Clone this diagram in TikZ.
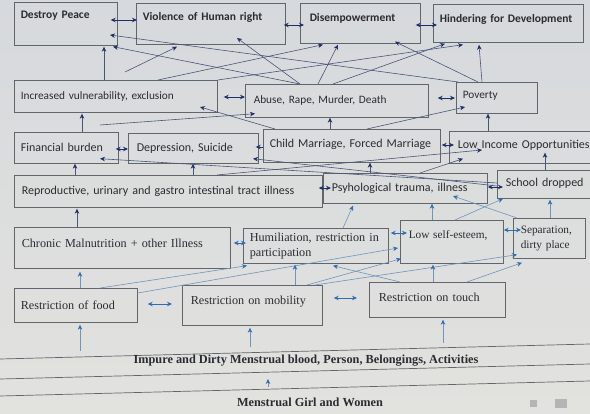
\documentclass[tikz,border=0pt]{standalone}
\usepackage{fontspec}
\setmainfont{Carlito}
\newfontfamily\rmserif{Liberation Serif}
\usetikzlibrary{arrows.meta}
\definecolor{bgtop}{HTML}{D6D9DD}
\definecolor{bgbot}{HTML}{E2E2DE}
\definecolor{bord}{HTML}{62666A}
\definecolor{navy}{HTML}{1F2E66}
\definecolor{navyl}{HTML}{4A5578}
\definecolor{sblue}{HTML}{2F6DB0}
\definecolor{sbluel}{HTML}{7094BC}
\definecolor{txt}{HTML}{2A2C32}
\definecolor{icon}{HTML}{B4B6B6}
\tikzset{
  box/.style={draw=bord, line width=0.7pt, anchor=north west, inner ysep=0pt,
    align=left, text=txt, font=\fontsize{12}{13}\selectfont},
  topbox/.style={box, font=\bfseries\fontsize{11.5}{13}\selectfont},
  midbox/.style={box, font=\fontsize{11.3}{13}\selectfont},
  sbox/.style={box, font=\rmserif\fontsize{12.2}{15}\selectfont},
  dim/.style n args={3}{minimum width=#1pt, minimum height=#2pt, inner xsep=#3pt, text width=#1pt-2*#3pt-0.8pt},
  up/.style={navyl, line width=0.6pt, -{Stealth[length=5pt,width=4.5pt,color=navy]}},
  dbl/.style={navy, line width=0.7pt, {Stealth[length=5pt,width=4.5pt]}-{Stealth[length=5pt,width=4.5pt]}},
  lo/.style={sbluel, line width=0.6pt, -{Stealth[length=5pt,width=4.5pt,color=sblue]}},
  dbllo/.style={sblue, line width=0.7pt, {Stealth[length=5pt,width=4.5pt]}-{Stealth[length=5pt,width=4.5pt]}},
  band/.style={text=txt, font=\rmserif\bfseries\fontsize{12.3}{14}\selectfont},
  bline/.style={draw=bord, line width=0.7pt}
}
\begin{document}
\begin{tikzpicture}[x=1pt, y=-1pt]
\shade[top color=bgtop, bottom color=bgbot] (0,0) rectangle (590,414);
\useasboundingbox (0,0) rectangle (590,414);

% row 1
\node[topbox, dim={103}{43}{6}, text depth=19pt] (dp) at (14,2) {\mbox{Destroy Peace}};
\node[topbox, dim={149}{41}{6}, text depth=15pt] (vh) at (136,3) {\mbox{Violence of Human right}};
\node[topbox, dim={120}{40}{9}, text depth=12pt] (de) at (300,3) {\mbox{Disempowerment}};
\node[topbox, dim={150}{38}{6}, text depth=10pt] (hd) at (433,4) {\mbox{Hindering for Development}};
% row 2
\node[midbox, dim={203}{32}{6}] (iv) at (14,80) {\mbox{Increased vulnerability, exclusion}};
\node[midbox, dim={183}{33}{8}] (ab) at (245,84) {\mbox{Abuse, Rape, Murder, Death}};
\node[midbox, dim={81}{31}{6}, text depth=6pt] (po) at (456,82) {\mbox{Poverty}};
% row 3
\node[box, dim={104}{31}{6}] (fb) at (14,132) {\mbox{Financial burden}};
\node[box, dim={130}{30}{8}] (ds) at (128,133) {\mbox{Depression, Suicide}};
\node[box, dim={177}{33}{6}, text depth=5pt] (cm) at (263,129) {\mbox{Child Marriage, Forced Marriage}};
\node[box, dim={151}{32}{8}, text depth=5pt] (li) at (449,131) {\mbox{Low Income Opportunities}};
% row 4
\node[box, dim={308}{32}{7}] (rp) at (14,175) {\mbox{Reproductive, urinary and gastro intestinal tract illness}};
\node[box, dim={164}{30}{8}] (ps) at (323,173) {\mbox{Psyhological trauma, illness}};
\node[box, dim={103}{28}{8}, text depth=5pt] (sd) at (497,170) {\mbox{School dropped}};
% row 5
\node[sbox, dim={216}{41}{7}, text depth=10pt] (cr) at (14,227) {\mbox{Chronic Malnutrition + other Illness}};
\node[sbox, dim={145}{35}{6}] (hu) at (243,228) {\mbox{Humiliation, restriction in}\\\mbox{participation}};
\node[box, dim={103}{43}{8}, text depth=14pt, font=\rmserif\fontsize{11.3}{15}\selectfont] (ls) at (400,220) {\mbox{Low self-esteem,}};
\node[sbox, dim={72}{40}{7}, font=\rmserif\fontsize{11.3}{15}\selectfont] (se) at (513,218) {\mbox{Separation,}\\\mbox{dirty place}};
% row 6
\node[sbox, dim={123}{34}{6}] (rf) at (14,288) {\mbox{Restriction of food}};
\node[sbox, dim={140}{40}{8}, text depth=10pt] (rm) at (182,285) {\mbox{Restriction on mobility}};
\node[sbox, dim={136}{35}{9}, text depth=6pt] (rt) at (369,282) {\mbox{Restriction on touch}};

% bands
\draw[bline] (0,359) -- (590,344);
\draw[bline] (0,379) -- (590,364);
\draw[bline] (0,396) -- (590,381);
\node[band] (im) at (306,361) {Impure and Dirty Menstrual blood, Person, Belongings, Activities};
\node[band] (mg) at (310,402) {Menstrual Girl and Women};
\fill[icon] (530,400) rectangle (537,407);
\fill[icon] (555,399) rectangle (567,408);
\coordinate (b1) at (80,351);
\coordinate (b2) at (250,347);
\coordinate (b3) at (443,343);
\coordinate (b4) at (268,387);
\coordinate (b5) at (268,379);
\coordinate (f1) at (125,72);
\coordinate (f2) at (100,125);

% double arrows upper
\draw[dbl] ([shift={(-7,18)}]dp.north east) -- ([shift={(1,17)}]vh.north west);
\draw[dbl] ([shift={(-2,22)}]vh.north east) -- ([shift={(4,22)}]de.north west);
\draw[dbl] ([shift={(-5,22)}]de.north east) -- ([shift={(4,21)}]hd.north west);
\draw[dbl] ([shift={(6,17)}]iv.north east) -- ([shift={(0,13)}]ab.north west);
\draw[dbl] ([shift={(9,14)}]ab.north east) -- ([shift={(-1,16)}]po.north west);
\draw[dbl] ([shift={(-3,17)}]fb.north east) -- ([shift={(0,16)}]ds.north west);
\draw[navy, line width=0.7pt, -{Stealth[length=5pt,width=4.5pt]}] ([shift={(0,18)}]cm.north west) -- ([shift={(-3,14)}]ds.north east);
\draw[dbl] ([shift={(1,16)}]cm.north east) -- ([shift={(5,14)}]li.north west);
\draw[dbl] ([shift={(-4,13)}]rp.north east) -- ([shift={(8,15)}]ps.north west);
\draw[dbl] ([shift={(0,14)}]ps.north east) -- ([shift={(6,17)}]sd.north west);
% double arrows lower
\draw[dbllo] ([shift={(3,16)}]cr.north east) -- ([shift={(3,15)}]hu.north west);
\draw[dbllo] ([shift={(2,5)}]hu.north east) -- ([shift={(7,13)}]ls.north west);
\draw[dbllo] ([shift={(0,10)}]ls.north east) -- ([shift={(8,12)}]se.north west);
\draw[dbllo] ([shift={(10,16)}]rf.north east) -- ([shift={(-10,19)}]rm.north west);
\draw[dbllo] ([shift={(11,13)}]rm.north east) -- ([shift={(-12,16)}]rt.north west);

% upper connectors
\draw[up] ([shift={(90,0)}]iv.north west) -- ([shift={(90,1)}]dp.south west);
\draw[up] (f1) -- ([shift={(41,2)}]vh.south west);
\draw[up] ([shift={(2,0)}]po.north west) -- ([shift={(96,33)}]dp.north west);
\draw[up] ([shift={(55,0)}]ab.north west) -- ([shift={(99,1)}]dp.south west);
\draw[up] ([shift={(55,0)}]ab.north west) -- ([shift={(101,35)}]vh.north west);
\draw[up] ([shift={(144,0)}]iv.north west) -- ([shift={(23,1)}]de.south west);
\draw[up] (iv.north east) -- ([shift={(30,2)}]hd.south west);
\draw[up] ([shift={(73,0)}]ab.north west) -- ([shift={(38,1)}]de.south west);
\draw[up] ([shift={(88,0)}]ab.north west) -- ([shift={(12,1)}]hd.south west);
\draw[up] ([shift={(22,0)}]po.north west) -- ([shift={(95,-2)}]de.south west);
\draw[up] ([shift={(26,0)}]po.north west) -- ([shift={(46,2)}]hd.south west);
\draw[up] ([shift={(12,0)}]cm.north west) -- ([shift={(186,27)}]iv.north west);
\draw[up] (f2) -- ([shift={(10,-4)}]ab.south west);
\draw[up] ([shift={(68,0)}]fb.north west) -- ([shift={(68,1)}]iv.south west);
\draw[up] ([shift={(67,0)}]cm.north west) -- ([shift={(85,0)}]ab.south west);
\draw[up] ([shift={(104,0)}]cm.north west) -- ([shift={(9,25)}]po.north west);
\draw[up] ([shift={(39,0)}]li.north west) -- ([shift={(32,0)}]po.south west);
% row 3-4
\draw[up] ([shift={(61,0)}]rp.north west) -- ([shift={(61,0)}]fb.south west);
\draw[up] ([shift={(179,0)}]rp.north west) -- ([shift={(65,0)}]ds.south west);
\draw[up] ([shift={(0,13)}]sd.north west) -- ([shift={(86,-5)}]fb.south west);
\draw[up] ([shift={(0,16)}]sd.north west) -- ([shift={(125,-5)}]ds.south west);
\draw[up] ([shift={(203,0)}]rp.north west) -- ([shift={(33,19)}]li.north west);
\draw[up] ([shift={(97,0)}]ps.north west) -- ([shift={(14,-5)}]li.south west);
\draw[up] ([shift={(47,0)}]ps.north west) -- ([shift={(107,0)}]cm.south west);
\draw[up] ([shift={(48,0)}]sd.north west) -- ([shift={(96,-11)}]li.south west);
\draw[up] ([shift={(63,0)}]cr.north west) -- ([shift={(63,1)}]rp.south west);
% row 5
\draw[lo] ([shift={(100,0)}]hu.north west) -- ([shift={(30,2)}]ps.south west);
\draw[lo] ([shift={(32,0)}]ls.north west) -- ([shift={(109,0)}]ps.south west);
\draw[lo] ([shift={(4,0)}]se.north west) -- ([shift={(130,23)}]ps.north west);
\draw[lo] ([shift={(55,0)}]ls.north west) -- ([shift={(6,0)}]sd.south west);
\draw[lo] ([shift={(37,0)}]se.north west) -- ([shift={(53,1)}]sd.south west);
% row 6
\draw[lo] ([shift={(66,0)}]rf.north west) -- ([shift={(66,3)}]cr.south west);
\draw[lo] ([shift={(86,0)}]rf.north west) -- ([shift={(4,2)}]hu.south west);
\draw[lo] ([shift={(0,5)}]rf.north east) -- ([shift={(-2,28)}]ls.north west);
\draw[lo] ([shift={(113,0)}]rm.north west) -- ([shift={(52,1)}]hu.south west);
\draw[lo] ([shift={(125,0)}]rm.north west) -- ([shift={(1,-5)}]ls.south west);
\draw[lo] ([shift={(133,0)}]rm.north west) -- ([shift={(4,-4)}]se.south west);
\draw[lo] ([shift={(31,0)}]rt.north west) -- ([shift={(90,2)}]hu.south west);
\draw[lo] ([shift={(64,0)}]rt.north west) -- ([shift={(33,1)}]ls.south west);
\draw[lo] ([shift={(98,0)}]rt.north west) -- ([shift={(9,4)}]se.south west);
% bottom
\draw[lo] (b1) -- ([shift={(66,2)}]rf.south west);
\draw[lo] (b2) -- ([shift={(68,2)}]rm.south west);
\draw[lo] (b3) -- ([shift={(74,2)}]rt.south west);
\draw[lo] (b4) -- (b5);
\end{tikzpicture}
\end{document}
